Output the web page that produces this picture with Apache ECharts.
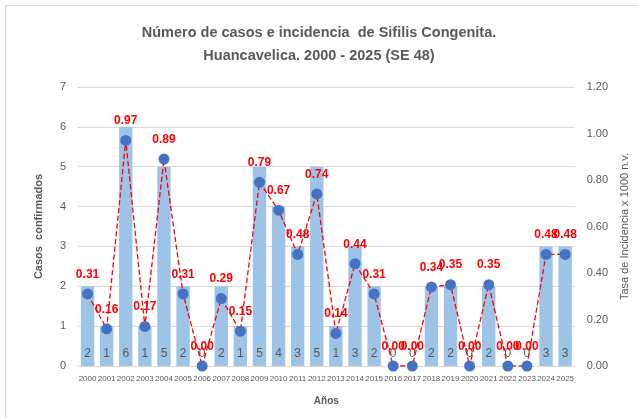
<!DOCTYPE html>
<html>
<head>
<meta charset="utf-8">
<script src="https://cdn.jsdelivr.net/npm/echarts@6/dist/echarts.min.js"></script>
<style>
html,body{margin:0;padding:0;background:#fff;}
#chart{width:638px;height:418px;}
</style>
</head>
<body>
<div id="chart"></div>
<script>
// Años de notificación
const years = ['2000','2001','2002','2003','2004','2005','2006','2007','2008','2009','2010','2011','2012','2013','2014','2015','2016','2017','2018','2019','2020','2021','2022','2023','2024','2025'];
// Casos confirmados por año
const casos = [2,1,6,1,5,2,0,2,1,5,4,3,5,1,3,2,0,0,2,2,0,2,0,0,3,3];
// Tasa de incidencia x 1000 nacidos vivos
const tasa = [0.31,0.16,0.97,0.17,0.89,0.31,0.00,0.29,0.15,0.79,0.67,0.48,0.74,0.14,0.44,0.31,0.00,0.00,0.34,0.35,0.00,0.35,0.00,0.00,0.48,0.48];

const font = '"Liberation Sans",sans-serif';
const gray = '#595959';

const chart = echarts.init(document.getElementById('chart'));
chart.setOption({
  animation: false,
  textStyle: { fontFamily: font },
  graphic: [{
    type: 'rect', shape: { x: 5.5, y: 5.5, width: 640, height: 420 },
    style: { fill: 'none', stroke: '#d9d9d9', lineWidth: 1 }, silent: true
  }],
  title: {
    text: 'Número de casos e incidencia  de Sifilis Congenita.\nHuancavelica. 2000 - 2025 (SE 48)',
    left: 'center', top: 16,
    textStyle: { fontFamily: font, fontSize: 14.5, fontWeight: 'bold', color: gray, lineHeight: 23 }
  },
  grid: { left: 78, right: 60, top: 87, bottom: 52, containLabel: false },
  xAxis: {
    type: 'category', data: years,
    name: 'Años', nameLocation: 'middle', nameGap: 30,
    nameTextStyle: { fontSize: 10, fontWeight: 'bold', color: gray },
    axisLine: { show: false }, axisTick: { show: false },
    axisLabel: { color: gray, fontSize: 8, interval: 0, margin: 9 }
  },
  yAxis: [{
    type: 'value', min: 0, max: 7, interval: 1,
    name: 'Casos  confirmados', nameLocation: 'middle', nameGap: 34,
    nameTextStyle: { fontSize: 11, fontWeight: 'bold', color: gray },
    axisLabel: { color: gray, fontSize: 11, margin: 12 },
    splitLine: { lineStyle: { color: '#d9d9d9' } }
  }, {
    type: 'value', min: 0, max: 1.2, interval: 0.2,
    name: 'Tasa de Incidencia x 1000 n.v.', nameLocation: 'middle', nameGap: 37,
    nameRotate: 90,
    nameTextStyle: { fontSize: 11, color: gray },
    axisLabel: { color: gray, fontSize: 11, margin: 12, formatter: v => v.toFixed(2) },
    splitLine: { show: false }
  }],
  series: [{
    type: 'bar', data: casos, yAxisIndex: 0, barWidth: '70%',
    itemStyle: { color: '#9dc3e6' },
    label: { show: true, position: 'insideBottom', distance: 6, color: gray, fontSize: 12 }
  }, {
    type: 'line', data: tasa, yAxisIndex: 1,
    symbol: 'circle', symbolSize: 11,
    itemStyle: { color: '#4472c4' },
    lineStyle: { color: '#ff0000', type: 'dashed', width: 1.3 },
    label: {
      show: true, position: 'top', distance: 8, color: '#ff0000',
      fontSize: 12, fontWeight: 'bold', formatter: p => p.value.toFixed(2)
    },
    z: 5
  }]
});
</script>
</body>
</html>
